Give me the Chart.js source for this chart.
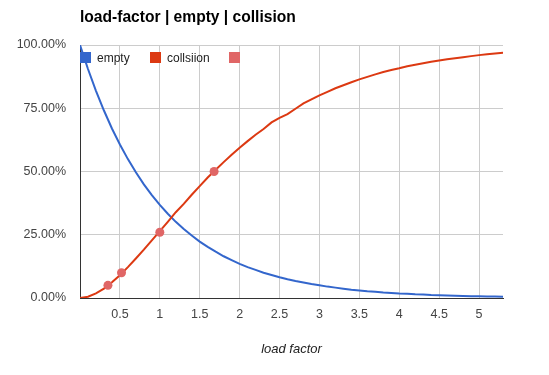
<!DOCTYPE html>
<html><head><meta charset="utf-8">
<script src="https://cdn.jsdelivr.net/npm/chart.js@4.4.1/dist/chart.umd.min.js"></script>
<style>
html,body{margin:0;padding:0;background:#fff;}
#wrap{position:relative;width:549px;height:375px;font-family:Arial,"Liberation Sans",sans-serif;}
#title{position:absolute;left:80px;top:8px;font-weight:bold;font-size:15.6px;color:#000;white-space:nowrap;}
.lg{position:absolute;top:52px;height:12px;font-size:12px;color:#222;line-height:12px;white-space:nowrap;}
.lg i{display:inline-block;width:11px;height:11px;vertical-align:top;margin-right:6px;}
canvas{position:absolute;left:0;top:0;}
</style></head>
<body>
<div id="wrap">
<canvas id="c" width="549" height="375"></canvas>
<div id="title">load-factor | empty | collision</div>
<div class="lg" style="left:80px"><i style="background:#3366cc"></i>empty</div>
<div class="lg" style="left:150px"><i style="background:#dc3912"></i>collsiion</div>
<div class="lg" style="left:229px"><i style="background:#e06666"></i></div>
</div>
<script>
const loadFactor = [0,0.1,0.2,0.3,0.4,0.5,0.6,0.7,0.8,0.9,1.0,1.1,1.2,1.3,1.4,1.5,1.6,1.7,1.8,1.9,2.0,2.1,2.2,2.3,2.4,2.5,2.6,2.7,2.8,2.9,3.0,3.1,3.2,3.3,3.4,3.5,3.6,3.7,3.8,3.9,4.0,4.1,4.2,4.3,4.4,4.5,4.6,4.7,4.8,4.9,5.0,5.1,5.2,5.3];
const emptyVals = [1.000,0.905,0.819,0.741,0.670,0.607,0.549,0.497,0.449,0.407,0.368,0.333,0.301,0.273,0.247,0.223,0.202,0.183,0.165,0.150,0.135,0.122,0.111,0.100,0.091,0.082,0.074,0.067,0.061,0.055,0.050,0.045,0.041,0.037,0.033,0.030,0.027,0.025,0.022,0.020,0.018,0.017,0.015,0.014,0.012,0.011,0.010,0.009,0.008,0.007,0.007,0.006,0.006,0.005];
const collisionVals = [0.000,0.005,0.018,0.037,0.062,0.090,0.122,0.156,0.191,0.228,0.264,0.301,0.339,0.372,0.408,0.442,0.476,0.507,0.537,0.566,0.594,0.620,0.645,0.668,0.694,0.712,0.727,0.748,0.769,0.785,0.801,0.815,0.829,0.841,0.853,0.864,0.874,0.884,0.893,0.901,0.908,0.916,0.922,0.928,0.934,0.939,0.944,0.948,0.952,0.956,0.960,0.963,0.966,0.969];
const markX = [0.35,0.52,1.0,1.68];
const markY = [0.05,0.10,0.26,0.50];
const xTicks = [0.5,1,1.5,2,2.5,3,3.5,4,4.5,5];
const yTicks = [0,0.25,0.5,0.75,1];

const pts = (xs, ys) => xs.map((x,i)=>({x:x,y:ys[i]}));
const tickFont = {family:'Arial, "Liberation Sans", sans-serif', size:12.5};

new Chart(document.getElementById('c'), {
  type:'scatter',
  data:{datasets:[
    {label:'', data:pts(markX,markY), showLine:false, pointRadius:4.5, pointHoverRadius:4.5, backgroundColor:'#e06666', borderColor:'#e06666', borderWidth:0, order:0},
    {label:'empty', data:pts(loadFactor,emptyVals), showLine:true, borderColor:'#3366cc', borderWidth:2, pointRadius:0, tension:0, order:2},
    {label:'collsiion', data:pts(loadFactor,collisionVals), showLine:true, borderColor:'#dc3912', borderWidth:2, pointRadius:0, tension:0, order:1}
  ]},
  options:{
    responsive:false, animation:false,
    layout:{padding:{top:45,right:46,left:0,bottom:0}},
    plugins:{legend:{display:false}, tooltip:{enabled:false}, title:{display:false}},
    scales:{
      x:{type:'linear', min:0, max:5.3,
        afterBuildTicks:(s)=>{ s.ticks = xTicks.map(v=>({value:v})); },
        afterFit:(s)=>{ s.height = 77; },
        grid:{color:'#cccccc', drawTicks:false, lineWidth:1},
        border:{color:'#333333', width:1},
        ticks:{font:tickFont, color:'#444', padding:9, maxRotation:0, autoSkip:false, callback:(v)=>String(v)},
        title:{display:true, text:'load factor', font:{family:'Arial, "Liberation Sans", sans-serif', size:13, style:'italic'}, color:'#222', padding:{top:6, bottom:18}}
      },
      y:{type:'linear', min:0, max:1,
        afterBuildTicks:(s)=>{ s.ticks = yTicks.map(v=>({value:v})); },
        afterFit:(s)=>{ s.width = 80; },
        grid:{color:'#cccccc', drawTicks:false, lineWidth:1},
        border:{color:'#333333', width:1},
        ticks:{font:tickFont, color:'#444', padding:14, callback:(v)=>(v*100).toFixed(2)+'%'}
      }
    }
  }
});
</script>
</body></html>
